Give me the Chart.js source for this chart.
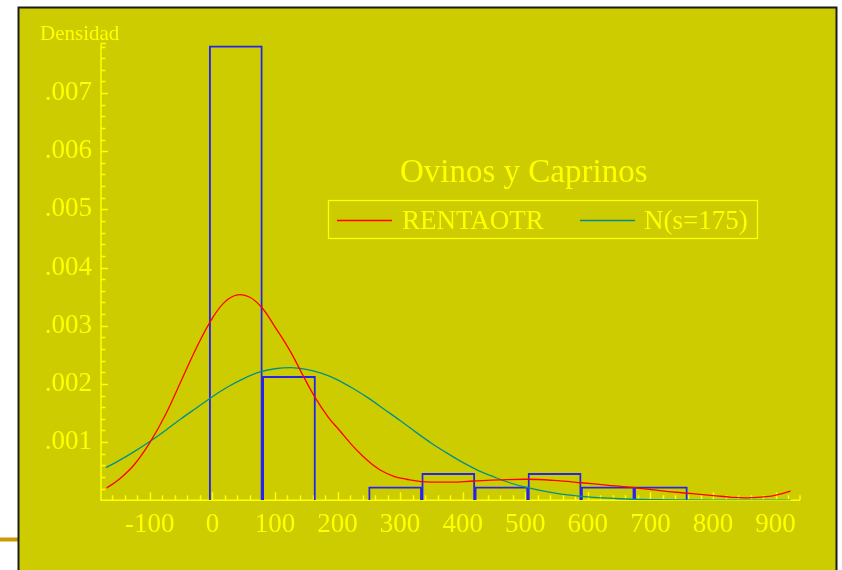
<!DOCTYPE html>
<html><head><meta charset="utf-8">
<script src="https://cdn.jsdelivr.net/npm/chart.js@4.4.1/dist/chart.umd.min.js"></script>
<style>html,body{margin:0;padding:0;background:#fff;overflow:hidden}canvas{display:block}</style>
</head><body>
<canvas id="c" width="842" height="570"></canvas>
<script>
// ---- data ----
const binCenters = [37.4, 122.3, 207.2, 292.1, 377.0, 461.9, 546.8, 631.7, 716.6];
const binDensity = [0.00781, 0.00213, 0, 0.00023, 0.00046, 0.00023, 0.00046, 0.00023, 0.00023];

const rentaX = [-169, -150, -125, -100, -75, -50, -25, 0, 20, 40, 60, 80, 100, 125, 145, 165, 185, 204, 222, 241, 255, 268, 290, 310, 334, 380, 418, 460, 504, 545, 590, 630, 674, 715, 759, 800, 830, 854, 886, 905, 924];
const rentaY = [0.00021, 0.00035, 0.00061, 0.00099, 0.00147, 0.00205, 0.00263, 0.00313, 0.00341, 0.00353, 0.00349, 0.0033, 0.00298, 0.00255, 0.00214, 0.00175, 0.00143, 0.00119, 0.00096, 0.00075, 0.00062, 0.00052, 0.00041, 0.00036, 0.00032, 0.00031, 0.00033, 0.00035, 0.00036, 0.00034, 0.0003, 0.00026, 0.000215, 0.000165, 0.00012, 0.00008, 0.00005, 0.00004, 0.00006, 0.0001, 0.000158];

const normalX = [-170, -150, -125, -100, -75, -50, -25, 0, 25, 50, 75, 100, 125, 150, 175, 200, 225, 250, 275, 300, 325, 350, 375, 400, 425, 450, 475, 500, 550, 600, 650, 700, 750, 800, 850, 924];
const normalY = [0.00056, 0.000675, 0.000835, 0.00101, 0.0012, 0.0014, 0.00159, 0.00178, 0.00195, 0.00209, 0.0022, 0.00226, 0.00228, 0.00225, 0.00218, 0.00207, 0.00192, 0.00175, 0.00156, 0.00137, 0.00117, 0.00098, 0.00081, 0.00065, 0.00051, 0.0004, 0.0003, 0.000224, 0.000116, 0.000056, 0.000025, 0.00001, 0.000004, 0.000001, 0, 0];

const seriesLabels = ['RENTAOTR', 'N(s=175)'];
const chartTitle = 'Ovinos y Caprinos';
const yAxisTitle = 'Densidad';
const xRange = [-178, 939];
const yRange = [0, 0.00785];
const xMajorStep = 100, xMinorStep = 20;
const yMajorStep = 0.001, yMinorStep = 0.0002;

// ---- styles ----
const SERIF = "'Liberation Serif', 'Times New Roman', serif";
const YEL = '#ffff00';
const PANEL = '#cccc00';

const decor = {
  id: 'decor',
  beforeDraw(chart) {
    const ctx = chart.ctx;
    ctx.save();
    ctx.fillStyle = '#ffffff';
    ctx.fillRect(0, 0, chart.width, chart.height);
    ctx.fillStyle = '#cc9a06';
    ctx.fillRect(0, 537.5, 18, 4);
    ctx.fillStyle = PANEL;
    ctx.fillRect(18, 7, 819, 580);
    ctx.strokeStyle = '#1c1c1c';
    ctx.lineWidth = 2;
    ctx.beginPath();
    ctx.moveTo(18.5, 600); ctx.lineTo(18.5, 7.5); ctx.lineTo(836.5, 7.5); ctx.lineTo(836.5, 600);
    ctx.stroke();
    ctx.restore();
  },
  beforeDatasetsDraw(chart) {
    const ctx = chart.ctx, xs = chart.scales.x, ys = chart.scales.y;
    const a = chart.chartArea;
    ctx.save();
    ctx.strokeStyle = YEL;
    ctx.lineWidth = 1.5;
    ctx.beginPath();
    ctx.moveTo(a.left, a.top); ctx.lineTo(a.left, a.bottom); ctx.lineTo(a.right, a.bottom);
    ctx.moveTo(a.left, a.top); ctx.lineTo(a.left + 5, a.top);
    ctx.moveTo(a.right, a.bottom); ctx.lineTo(a.right, a.bottom - 5);
    const ny = Math.floor((yRange[1] - yRange[0]) / yMinorStep + 1e-6);
    for (let i = 1; i <= ny; i++) {
      const v = yRange[0] + i * yMinorStep;
      const py = Math.round(ys.getPixelForValue(v)) + 0.5;
      const major = i % Math.round(yMajorStep / yMinorStep) === 0;
      ctx.moveTo(a.left, py); ctx.lineTo(a.left + (major ? 7 : 4.5), py);
    }
    const start = Math.ceil(xRange[0] / xMinorStep) * xMinorStep;
    for (let v = start; v < xRange[1]; v += xMinorStep) {
      const px = Math.round(xs.getPixelForValue(v)) + 0.5;
      if (px <= a.left + 1) continue;
      const major = Math.abs(v % xMajorStep) < 1e-6;
      ctx.moveTo(px, a.bottom); ctx.lineTo(px, a.bottom - (major ? 8 : 5));
    }
    ctx.stroke();
    ctx.restore();
  },
  afterDraw(chart) {
    const ctx = chart.ctx;
    ctx.save();
    ctx.fillStyle = YEL;
    ctx.textBaseline = 'alphabetic';
    ctx.textAlign = 'left';
    ctx.font = '21px ' + SERIF;
    ctx.fillText(yAxisTitle, 40, 40);
    ctx.font = '33px ' + SERIF;
    ctx.fillText(chartTitle, 400, 182);
    ctx.strokeStyle = YEL;
    ctx.lineWidth = 1.3;
    ctx.strokeRect(328.5, 200.5, 429, 38);
    ctx.font = '27px ' + SERIF;
    const items = [
      {ds: chart.data.datasets[0], x0: 337, x1: 392, tx: 402},
      {ds: chart.data.datasets[1], x0: 580, x1: 635, tx: 644}
    ];
    items.forEach(it => {
      ctx.strokeStyle = it.ds.borderColor;
      ctx.lineWidth = 1.5;
      ctx.beginPath(); ctx.moveTo(it.x0, 220.5); ctx.lineTo(it.x1, 220.5); ctx.stroke();
      ctx.fillStyle = YEL;
      ctx.fillText(it.ds.label, it.tx, 228.5);
    });
    ctx.restore();
  }
};

new Chart(document.getElementById('c'), {
  type: 'line',
  data: {
    datasets: [
      {
        label: seriesLabels[0],
        data: rentaX.map((x, i) => ({x, y: rentaY[i]})),
        borderColor: '#ff0000', borderWidth: 1.3, pointRadius: 0,
        tension: 0.4, fill: false
      },
      {
        label: seriesLabels[1],
        data: normalX.map((x, i) => ({x, y: normalY[i]})),
        borderColor: '#00908c', borderWidth: 1.3, pointRadius: 0,
        cubicInterpolationMode: 'monotone', fill: false
      },
      {
        type: 'bar',
        label: 'hist',
        data: binCenters.map((x, i) => ({x, y: binDensity[i]})),
        backgroundColor: 'rgba(0,0,0,0)',
        borderColor: '#2424ee', borderWidth: 1.3,
        barPercentage: 1, categoryPercentage: 1, borderSkipped: 'start'
      }
    ]
  },
  options: {
    responsive: false, animation: false, events: [],
    layout: {padding: {left: 0, top: 43.6, right: 42, bottom: 0}},
    plugins: {legend: {display: false}, tooltip: {enabled: false}, title: {display: false}},
    scales: {
      x: {
        type: 'linear', min: xRange[0], max: xRange[1], offset: false,
        grid: {display: false, drawTicks: false}, border: {display: false},
        ticks: {stepSize: xMajorStep, includeBounds: false, color: YEL, padding: 9,
                font: {family: SERIF, size: 27}, maxRotation: 0, autoSkip: false,
                callback: v => String(v)},
        afterFit: s => { s.height = 570 - 500.2; }
      },
      y: {
        type: 'linear', min: yRange[0], max: yRange[1],
        grid: {display: false, drawTicks: false}, border: {display: false},
        ticks: {stepSize: yMajorStep, includeBounds: false, color: YEL, padding: 9,
                font: {family: SERIF, size: 27},
                callback: v => v < 1e-9 ? '' : v.toFixed(3).replace(/^0/, '')},
        afterFit: s => { s.width = 101; }
      }
    }
  },
  plugins: [decor]
});
</script>
</body></html>
